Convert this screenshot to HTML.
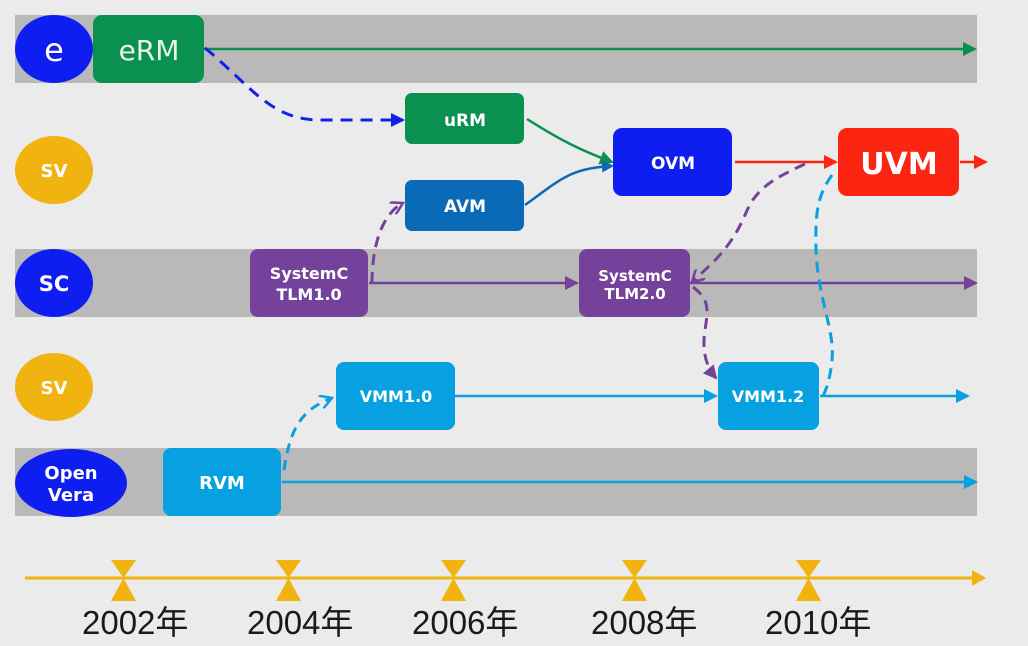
<!DOCTYPE html>
<html><head><meta charset="utf-8"><style>
html,body{margin:0;padding:0;background:#ebebeb;}
svg{display:block;}
text{font-family:"DejaVu Sans","Liberation Sans",sans-serif;font-weight:bold;fill:#fff;text-anchor:middle;}
.y{font-family:"Liberation Sans","Noto Sans CJK SC",sans-serif;font-weight:normal;fill:#1a1a1a;font-size:33px;text-anchor:start;}
</style></head><body>
<svg width="1028" height="646" viewBox="0 0 1028 646" xmlns="http://www.w3.org/2000/svg">
<defs>
<marker id="g" markerWidth="14" markerHeight="14" refX="12" refY="7" orient="auto" markerUnits="userSpaceOnUse"><path d="M0,0 L14,7 L0,14z" fill="#0a9150"/></marker>
<marker id="b" markerWidth="14" markerHeight="14" refX="12" refY="7" orient="auto" markerUnits="userSpaceOnUse"><path d="M0,0 L14,7 L0,14z" fill="#1020e8"/></marker>
<marker id="ab" markerWidth="12" markerHeight="12" refX="10" refY="6" orient="auto" markerUnits="userSpaceOnUse"><path d="M0,0 L12,6 L0,12z" fill="#0a6ab8"/></marker>
<marker id="r" markerWidth="14" markerHeight="14" refX="12" refY="7" orient="auto" markerUnits="userSpaceOnUse"><path d="M0,0 L14,7 L0,14z" fill="#fc2511"/></marker>
<marker id="p" markerWidth="14" markerHeight="14" refX="12" refY="7" orient="auto" markerUnits="userSpaceOnUse"><path d="M0,0 L14,7 L0,14z" fill="#74429a"/></marker>
<marker id="pc" markerWidth="14" markerHeight="14" refX="12" refY="7" orient="auto" markerUnits="userSpaceOnUse"><path d="M0,0 L12,7 L0,14" fill="none" stroke="#74429a" stroke-width="2.5"/></marker>
<marker id="c" markerWidth="14" markerHeight="14" refX="12" refY="7" orient="auto" markerUnits="userSpaceOnUse"><path d="M0,0 L14,7 L0,14z" fill="#07a0e0"/></marker>
<marker id="cc" markerWidth="14" markerHeight="14" refX="12" refY="7" orient="auto" markerUnits="userSpaceOnUse"><path d="M0,0 L12,7 L0,14" fill="none" stroke="#07a0e0" stroke-width="2.5"/></marker>
<marker id="o" markerWidth="14" markerHeight="16" refX="12" refY="8" orient="auto" markerUnits="userSpaceOnUse"><path d="M0,0 L14,8 L0,16z" fill="#f0b310"/></marker>
</defs>
<rect width="1028" height="646" fill="#ebebeb"/>
<rect x="15" y="15" width="962" height="68" fill="#b9b9b9"/>
<rect x="15" y="249" width="962" height="68" fill="#b9b9b9"/>
<rect x="15" y="448" width="962" height="68" fill="#b9b9b9"/>

<line x1="204" y1="49" x2="975" y2="49" stroke="#0a9150" stroke-width="2.5" marker-end="url(#g)"/>
<path d="M205,48 C250,85 270,120 320,120 L403,120" fill="none" stroke="#1020e8" stroke-width="3" stroke-dasharray="12,8" marker-end="url(#b)"/>
<path d="M527,119 C560,140 580,150 612,162" fill="none" stroke="#0a9150" stroke-width="2.5" marker-end="url(#g)"/>
<path d="M525,205 C560,180 570,168 612,166" fill="none" stroke="#0a6ab8" stroke-width="2.5" marker-end="url(#ab)"/>
<line x1="735" y1="162" x2="836" y2="162" stroke="#fc2511" stroke-width="2.5" marker-end="url(#r)"/>
<line x1="960" y1="162" x2="986" y2="162" stroke="#fc2511" stroke-width="2.5" marker-end="url(#r)"/>
<line x1="369" y1="283" x2="577" y2="283" stroke="#74429a" stroke-width="2.5" marker-end="url(#p)"/>
<line x1="690" y1="283" x2="976" y2="283" stroke="#74429a" stroke-width="2.5" marker-end="url(#p)"/>
<path d="M372,283 C372,250 380,215 403,203" fill="none" stroke="#74429a" stroke-width="3" stroke-dasharray="11,7" marker-end="url(#pc)"/>
<path d="M805,164 C770,180 755,190 745,215 C730,250 710,265 692,282" fill="none" stroke="#74429a" stroke-width="3" stroke-dasharray="11,7" marker-end="url(#pc)"/>
<path d="M693,287 C710,300 708,310 705,330 C702,350 705,365 716,378" fill="none" stroke="#74429a" stroke-width="3" stroke-dasharray="11,7" marker-end="url(#p)"/>
<path d="M832,175 C818,195 815,210 816,250 C818,300 835,330 832,360 C830,380 826,390 823,396" fill="none" stroke="#07a0e0" stroke-width="3" stroke-dasharray="11,7"/>
<line x1="455" y1="396" x2="716" y2="396" stroke="#07a0e0" stroke-width="2.5" marker-end="url(#c)"/>
<line x1="820" y1="396" x2="968" y2="396" stroke="#07a0e0" stroke-width="2.5" marker-end="url(#c)"/>
<line x1="282" y1="482" x2="976" y2="482" stroke="#07a0e0" stroke-width="2.5" marker-end="url(#c)"/>
<path d="M284,470 C290,430 300,410 332,398" fill="none" stroke="#07a0e0" stroke-width="3" stroke-dasharray="10,7" marker-end="url(#cc)"/>

<ellipse cx="54" cy="49" rx="39" ry="34" fill="#0f1ef0"/>
<text x="54" y="61" style="font-weight:normal;font-size:32px">e</text>
<ellipse cx="54" cy="170" rx="39" ry="34" fill="#f0b310"/>
<text x="54" y="177" style="font-size:18px">SV</text>
<ellipse cx="54" cy="283" rx="39" ry="34" fill="#0f1ef0"/>
<text x="54" y="291" style="font-size:21px">SC</text>
<ellipse cx="54" cy="387" rx="39" ry="34" fill="#f0b310"/>
<text x="54" y="394" style="font-size:18px">SV</text>
<ellipse cx="71" cy="483" rx="56" ry="34" fill="#0f1ef0"/>
<text x="71" y="479" style="font-size:18px">Open</text>
<text x="71" y="501" style="font-size:18px">Vera</text>

<rect x="93" y="15" width="111" height="68" rx="9" fill="#0a9150"/>
<text x="149" y="60" style="font-weight:normal;font-size:28px;fill:#eaf5ea">eRM</text>
<rect x="405" y="93" width="119" height="51" rx="7" fill="#0a9150"/>
<text x="465" y="126" style="font-size:17px">uRM</text>
<rect x="405" y="180" width="119" height="51" rx="7" fill="#0a6ab8"/>
<text x="465" y="212" style="font-size:17px">AVM</text>
<rect x="613" y="128" width="119" height="68" rx="9" fill="#0f1ef0"/>
<text x="673" y="169" style="font-size:17px">OVM</text>
<rect x="838" y="128" width="121" height="68" rx="9" fill="#fc2511"/>
<text x="899" y="174" style="font-size:30px">UVM</text>
<rect x="250" y="249" width="118" height="68" rx="8" fill="#74429a"/>
<text x="309" y="279" style="font-size:16px">SystemC</text>
<text x="309" y="300" style="font-size:16px">TLM1.0</text>
<rect x="579" y="249" width="111" height="68" rx="8" fill="#74429a"/>
<text x="635" y="281" style="font-size:15px">SystemC</text>
<text x="635" y="299" style="font-size:15px">TLM2.0</text>
<rect x="336" y="362" width="119" height="68" rx="8" fill="#07a0e0"/>
<text x="396" y="402" style="font-size:16px">VMM1.0</text>
<rect x="718" y="362" width="101" height="68" rx="8" fill="#07a0e0"/>
<text x="768" y="402" style="font-size:16px">VMM1.2</text>
<rect x="163" y="448" width="118" height="68" rx="8" fill="#07a0e0"/>
<text x="222" y="489" style="font-size:18px">RVM</text>

<line x1="25" y1="578" x2="984" y2="578" stroke="#f0b310" stroke-width="3" marker-end="url(#o)"/>
<g fill="#f0b310">
<path d="M111,560 h25 l-12.5,18z M111,601 h25 l-12.5,-23z"/>
<path d="M276,560 h25 l-12.5,18z M276,601 h25 l-12.5,-23z"/>
<path d="M441,560 h25 l-12.5,18z M441,601 h25 l-12.5,-23z"/>
<path d="M622,560 h25 l-12.5,18z M622,601 h25 l-12.5,-23z"/>
<path d="M796,560 h25 l-12.5,18z M796,601 h25 l-12.5,-23z"/>
</g>
<text class="y" x="82" y="634">2002年</text>
<text class="y" x="247" y="634">2004年</text>
<text class="y" x="412" y="634">2006年</text>
<text class="y" x="591" y="634">2008年</text>
<text class="y" x="765" y="634">2010年</text>
</svg>
</body></html>
